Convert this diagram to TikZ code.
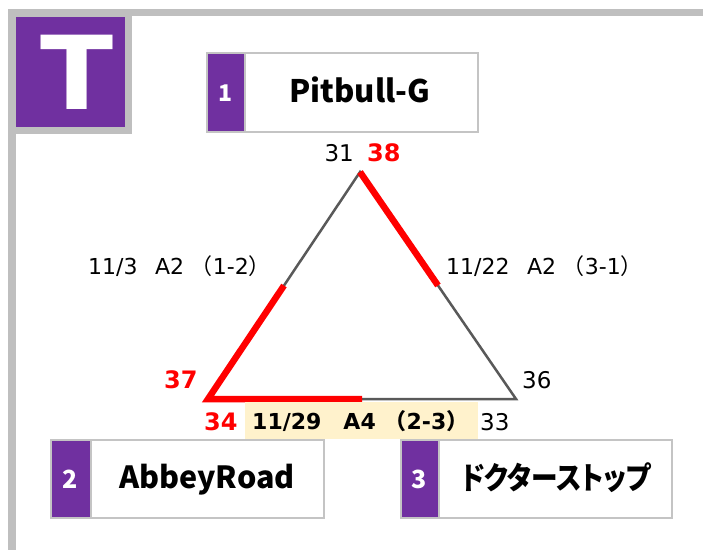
\documentclass[tikz,border=0pt]{standalone}
\usepackage{fontspec}
\setmainfont{Noto Sans CJK JP}
\newfontfamily\cjkfont{Noto Sans CJK JP}
\newfontfamily\kanafont[RawFeature=+palt, FakeStretch=0.86]{Noto Sans CJK JP}
\newfontfamily\dvs{DejaVu Sans}
\usetikzlibrary{calc}
\definecolor{purp}{HTML}{7030A0}
\definecolor{framegray}{HTML}{BFBFBF}
\definecolor{boxgray}{HTML}{C4C4C4}
\definecolor{trigray}{HTML}{595959}
\definecolor{hired}{HTML}{FF0000}
\definecolor{lblyellow}{HTML}{FFF2CC}
\newcommand\jp[1]{{\cjkfont #1}}
\tikzset{
  namebox/.style={draw=boxgray, line width=2pt, fill=white, inner sep=0pt, anchor=north west},
  numbox/.style={draw=boxgray, line width=2pt, fill=purp, inner sep=0pt, anchor=north west},
  numtxt/.style={text=white, inner sep=0pt, anchor=base, font=\cjkfont\bfseries\fontsize{25}{25}\selectfont},
  nametxt/.style={text=black, inner sep=0pt, anchor=base, font=\cjkfont\bfseries\fontsize{31}{31}\selectfont},
  tri/.style={draw=trigray, line width=2.5pt, line join=miter},
  redl/.style={draw=hired, line width=6.5pt, line join=miter},
  vnum/.style={inner sep=0pt, font=\dvs\fontsize{23}{23}\selectfont},
  vred/.style={inner sep=0pt, text=hired, font=\dvs\bfseries\fontsize{24}{24}\selectfont},
  edgelbl/.style={inner sep=0pt, anchor=base west, font=\dvs\fontsize{22}{22}\selectfont},
}
\begin{document}
\begin{tikzpicture}[x=1pt,y=-1pt]
\useasboundingbox (0,0) rectangle (703,550);
\fill[white] (0,0) rectangle (703,550);
% frame
\fill[framegray] (8,9) rectangle (703,16);
\fill[framegray] (8,9) rectangle (16,550);
\fill[framegray] (8,9) rectangle (132,134);
\node[fill=purp, minimum width=109pt, minimum height=110pt, inner sep=0pt, anchor=north west] (tbox) at (16,17) {};
\node[text=white, inner sep=0pt, anchor=base, xscale=1.05, font=\dvs\bfseries\fontsize{102}{102}\selectfont] (tl) at (77,109) {T};
% box 1
\node[namebox, minimum width=271pt, minimum height=79pt] (b1) at (206,52) {};
\node[numbox, minimum width=38pt, minimum height=79pt] (n1) at (206,52) {};
\node[numtxt, font=\cjkfont\bfseries\fontsize{23}{23}\selectfont] (n1t) at (225,101) {1};
\node[nametxt] (b1t) at (360,102) {Pitbull-G};
% box 2
\node[namebox, minimum width=273pt, minimum height=78pt] (b2) at (50,439) {};
\node[numbox, minimum width=40pt, minimum height=78pt] (n2) at (50,439) {};
\node[numtxt] (n2t) at (70,488) {2};
\node[nametxt, font=\cjkfont\bfseries\fontsize{30.5}{30.5}\selectfont] (b2t) at (207,488) {AbbeyRoad};
% box 3
\node[namebox, minimum width=271pt, minimum height=78pt] (b3) at (400,439) {};
\node[numbox, minimum width=38pt, minimum height=78pt] (n3) at (400,439) {};
\node[numtxt] (n3t) at (419,488) {3};
\node[nametxt, font=\kanafont\bfseries\fontsize{31}{31}\selectfont] (b3t) at (556,489) {ドクターストップ};
% triangle
\coordinate (A) at (360,172);
\coordinate (B) at (208,399);
\coordinate (C) at (516,399);
\draw[tri] (A) -- (B) -- (C) -- cycle;
\draw[redl] ($(A)!0.5!(B)$) -- (B) -- ($(B)!0.5!(C)$);
\draw[redl] (A) -- ($(A)!0.5!(C)$);
% vertex labels
\node[vnum, anchor=base east] (v31) at (354,161) {31};
\node[vred, anchor=base west] (v38) at (367,161) {38};
\node[vred, anchor=base west] (v37) at (164,388) {37};
\node[vnum, anchor=base west] (v36) at (522,388) {36};
\node[vred, anchor=base west] (v34) at (204,430) {34};
\node[vnum, anchor=base west] (v33) at (480,430) {33};
% edge labels
\node[edgelbl] (e12) at (88,274) {11/3\hspace{0.8em}A2\hspace{0.3em}\jp{（}1-2\jp{）}};
\node[edgelbl] (e31) at (446,274) {11/22\hspace{0.8em}A2\hspace{0.3em}\jp{（}3-1\jp{）}};
\fill[lblyellow] (245,402) rectangle (478,439);
\node[edgelbl, font=\dvs\bfseries\fontsize{22}{22}\selectfont] (e23) at (252,429) {11/29\hspace{1em}A4\hspace{0.4em}\jp{\bfseries（}2-3\jp{\bfseries）}};
\end{tikzpicture}
\end{document}
